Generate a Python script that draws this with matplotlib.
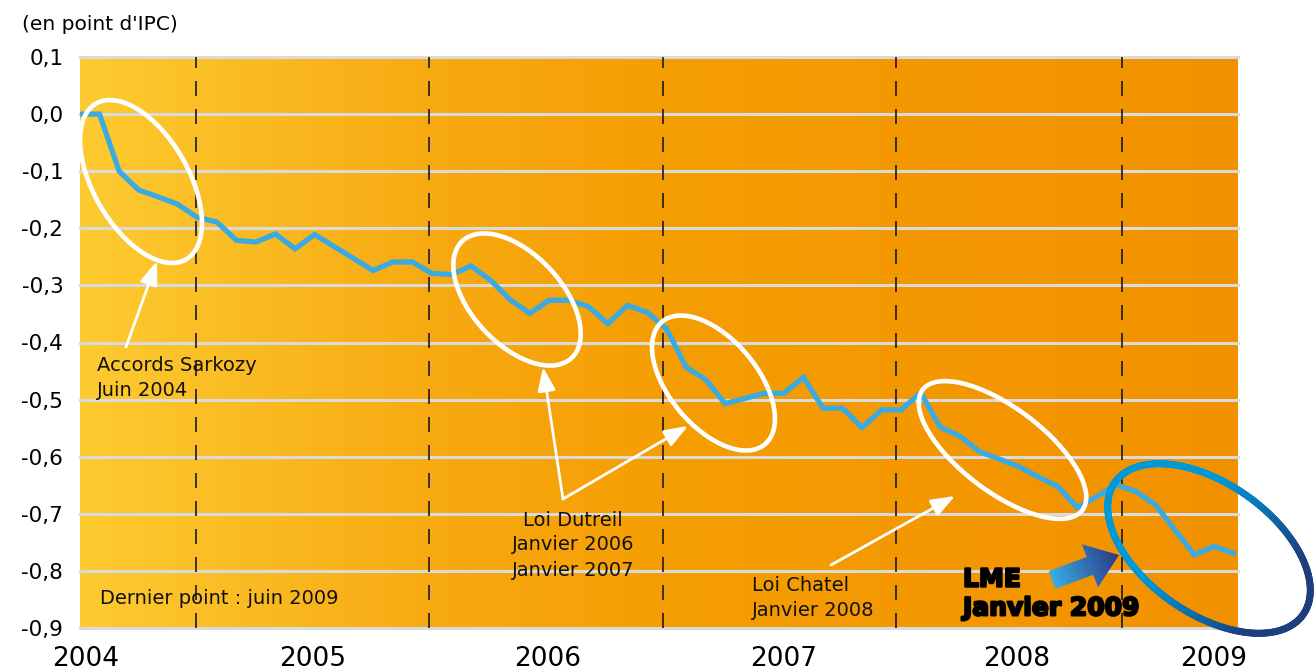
import numpy as np
import matplotlib
matplotlib.use("Agg")
import matplotlib.pyplot as plt
from matplotlib.colors import LinearSegmentedColormap
from matplotlib.patches import Ellipse, FancyArrow
from matplotlib.collections import LineCollection
import matplotlib.patheffects as pe

# impact cumulé sur l'IPC (en point), un point par mois jusqu'à juin 2009
impact = [0.0, 0.0, -0.100, -0.133, -0.145, -0.158, -0.181, -0.189, -0.221, -0.224,
          -0.210, -0.236, -0.211, -0.232, -0.253, -0.274, -0.259, -0.259, -0.279, -0.281,
          -0.266, -0.291, -0.325, -0.349, -0.326, -0.326, -0.337, -0.367, -0.335, -0.347,
          -0.376, -0.443, -0.465, -0.507, -0.498, -0.489, -0.489, -0.461, -0.515, -0.515,
          -0.549, -0.518, -0.518, -0.488, -0.548, -0.564, -0.591, -0.604, -0.617, -0.635,
          -0.652, -0.689, -0.670, -0.649, -0.661, -0.684, -0.728, -0.772, -0.757, -0.769]

y_ticks = [0.1, 0.0, -0.1, -0.2, -0.3, -0.4, -0.5, -0.6, -0.7, -0.8, -0.9]
y_labels = ["0,1", "0,0", "-0,1", "-0,2", "-0,3", "-0,4", "-0,5", "-0,6", "-0,7", "-0,8", "-0,9"]
years = ["2004", "2005", "2006", "2007", "2008", "2009"]

# layout (in month index units)
year_pos = [0.3, 11.9, 23.9, 36.0, 47.9, 58.0]
january_pos = [5.93, 17.85, 29.8, 41.74, 53.3]
x_max = 59.23

W, H = 1314, 670
fig = plt.figure(figsize=(W / 100, H / 100), dpi=100)
fig.patch.set_facecolor("white")
ax = fig.add_axes([80 / W, 1 - 628 / H, (1238 - 80) / W, (628 - 57) / H])

# yellow -> orange background
bg = LinearSegmentedColormap.from_list(
    "bg", [(0, "#FDCB31"), (0.3, "#F8AA12"), (0.5, "#F59E03"), (1, "#F29100")])
ax.imshow(np.linspace(0, 1, 256)[None, :], extent=[0, x_max, -0.9, 0.1],
          aspect="auto", cmap=bg, zorder=0)

for v in y_ticks:
    ax.axhline(v, color="#DADADA", lw=2.2, zorder=1, clip_on=False)
for x in january_pos:
    ax.axvline(x, color="#1a1a1a", lw=1.2, linestyle=(0, (9, 7.8)), zorder=2)

ax.plot(range(len(impact)), impact, color="#3BAAE0", lw=3.8, zorder=3,
        solid_joinstyle="miter")

ax.set_xlim(0, x_max)
ax.set_ylim(-0.9, 0.1)
ax.set_yticks(y_ticks, y_labels, fontsize=15.5)
ax.set_xticks(year_pos, years, fontsize=19)
ax.tick_params(length=0)
ax.tick_params(axis="y", pad=12)
ax.tick_params(axis="x", pad=13)
for s in ax.spines.values():
    s.set_visible(False)

fig.text(22 / W, 1 - 25 / H, "(en point d'IPC)", fontsize=14.5, va="center")

# annotation layer in pixel coordinates
ov = fig.add_axes([0, 0, 1, 1], zorder=5)
ov.set_xlim(0, W)
ov.set_ylim(H, 0)
ov.axis("off")
ov.patch.set_alpha(0)

for cx, cy, w, h, ang in [(141, 181.5, 180, 95, 60), (517, 299.5, 160, 90, 47),
                          (713.5, 383, 160, 88, 50), (1002.5, 450, 200, 84, 37)]:
    ov.add_patch(Ellipse((cx, cy), w, h, angle=ang, fill=False, ec="white", lw=3.3))

arrow_kw = dict(arrowstyle="-|>,head_length=1.6,head_width=0.6", color="white",
                lw=2, shrinkA=0, shrinkB=0, mutation_scale=9)
for tail, tip in [((126, 347), (157, 261)), ((563, 499), (543, 367)),
                  ((563, 499), (688, 426)), ((831, 565), (955, 496))]:
    ov.annotate("", xy=tip, xytext=tail, arrowprops=arrow_kw)

txt = dict(fontsize=14, color="#111111", linespacing=1.4)
ov.text(97, 378, "Accords Sarkozy\nJuin 2004", ha="left", va="center", **txt)
ov.text(573, 545, "Loi Dutreil\nJanvier 2006\nJanvier 2007", ha="center", va="center",
        multialignment="center", **txt)
ov.text(752, 598, "Loi Chatel\nJanvier 2008", ha="left", va="center", **txt)
ov.text(100, 598, "Dernier point : juin 2009", ha="left", va="center", **txt)
ov.text(963, 594, "LME\nJanvier 2009", ha="left", va="center", fontsize=18,
        fontweight="bold", color="black", linespacing=1.25,
        path_effects=[pe.withStroke(linewidth=1.6, foreground="black")])

# blue ellipse, light on the upper left, dark navy at the bottom right
cx, cy, a, b, ang = 1209, 548.5, 115, 65, np.deg2rad(35)
t = np.linspace(0, 2 * np.pi, 400)
ex = cx + a * np.cos(t) * np.cos(ang) - b * np.sin(t) * np.sin(ang)
ey = cy + a * np.cos(t) * np.sin(ang) + b * np.sin(t) * np.cos(ang)
pts = np.column_stack([ex, ey]).reshape(-1, 1, 2)
segs = np.concatenate([pts[:-1], pts[1:]], axis=1)
ring = LinearSegmentedColormap.from_list("ring", ["#0098D8", "#0A72B0", "#1D3F7E"])
k = np.clip((ex[:-1] - 1170) / 150 + (ey[:-1] - 540) / 180, 0, 1)
ov.add_collection(LineCollection(segs, colors=ring(k), lw=5, capstyle="round"))

# gradient arrow pointing at January 2009
x0, y0, dx, dy = 1052, 580, 67, -25
arr = FancyArrow(x0, y0, dx, dy, width=19, head_width=46, head_length=31,
                 length_includes_head=True, fc="none", ec="none")
ov.add_patch(arr)
xs = np.linspace(1030, 1130, 120)
ys = np.linspace(530, 610, 100)
X, Y = np.meshgrid(xs, ys)
L = np.hypot(dx, dy)
proj = ((X - x0) * dx + (Y - y0) * dy) / L ** 2
arrow_cmap = LinearSegmentedColormap.from_list("arr", ["#38AEE3", "#2D3886"])
im = ov.imshow(proj, extent=[xs[0], xs[-1], ys[0], ys[-1]], origin="lower",
               cmap=arrow_cmap, vmin=0, vmax=1, aspect="auto")
im.set_clip_path(arr)
ov.set_xlim(0, W)
ov.set_ylim(H, 0)

fig.savefig("out.png", dpi=100)
